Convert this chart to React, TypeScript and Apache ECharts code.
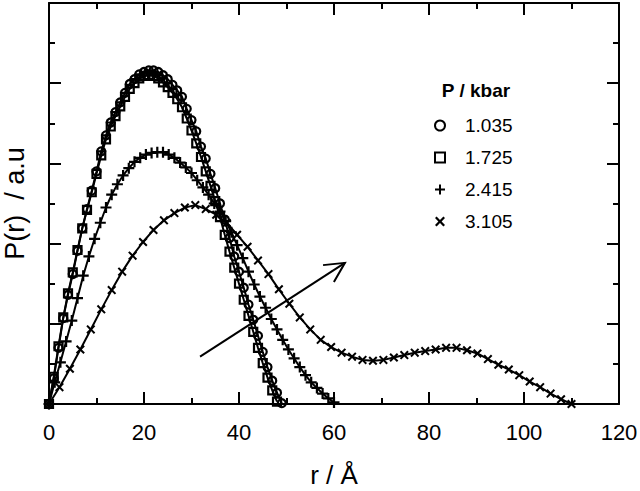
import React, { useEffect, useRef } from 'react';
import * as echarts from 'echarts';

// P / kbar = 1.035 (circles)
const CIRCLE_R = [0, 1, 2, 3, 4, 5, 6, 7, 8, 9, 10, 11, 12, 13, 14, 15, 16, 17, 18, 19, 20, 21, 22, 23, 24, 25, 26, 27, 28, 29, 30, 31, 32, 33, 34, 35, 36, 37, 38, 39, 40, 41, 42, 43, 44, 45, 46, 47, 48, 49];
const CIRCLE_P = [
  0, 0.32, 0.70, 1.07, 1.36, 1.62, 1.91, 2.19, 2.43, 2.66,
  2.90, 3.15, 3.35, 3.51, 3.64, 3.76, 3.88, 3.99, 4.05, 4.11,
  4.14, 4.16, 4.16, 4.14, 4.10, 4.05, 3.98, 3.91, 3.83, 3.68,
  3.54, 3.40, 3.21, 3.06, 2.87, 2.69, 2.50, 2.30, 2.07, 1.84,
  1.65, 1.45, 1.24, 1.05, 0.85, 0.65, 0.46, 0.29, 0.14, 0.01,
];

// P / kbar = 1.725 (squares)
const SQUARE_R = [0, 1, 2, 3, 4, 5, 6, 7, 8, 9, 10, 11, 12, 13, 14, 15, 16, 17, 18, 19, 20, 21, 22, 23, 24, 25, 26, 27, 28, 29, 30, 31, 32, 33, 34, 35, 36, 37, 38, 39, 40, 41, 42, 43, 44, 45, 46, 47, 48];
const SQUARE_P = [
  0, 0.34, 0.72, 1.08, 1.38, 1.64, 1.92, 2.19, 2.42, 2.64,
  2.87, 3.10, 3.30, 3.46, 3.59, 3.71, 3.83, 3.93, 4.00, 4.06,
  4.09, 4.10, 4.09, 4.06, 4.01, 3.95, 3.88, 3.80, 3.70, 3.56,
  3.41, 3.25, 3.08, 2.90, 2.72, 2.53, 2.33, 2.11, 1.90, 1.70,
  1.50, 1.30, 1.10, 0.90, 0.70, 0.51, 0.33, 0.17, 0.03,
];

// P / kbar = 2.415 (plus)
const PLUS_R = [0, 1.2, 2.4, 3.6, 4.8, 6.0, 7.2, 8.4, 9.6, 10.8, 12.0, 13.2, 14.4, 15.6, 16.8, 18.0, 19.2, 20.4, 21.6, 22.8, 24.0, 25.2, 26.4, 27.6, 28.8, 30.0, 31.2, 32.4, 33.6, 34.8, 36.0, 37.2, 38.4, 39.6, 40.8, 42.0, 43.2, 44.4, 45.6, 46.8, 48.0, 49.2, 50.4, 51.6, 52.8, 54.0, 55.2, 56.4, 57.6, 58.8, 60.0];
const PLUS_P = [
  0, 0.27, 0.52, 0.78, 1.04, 1.32, 1.60, 1.84, 2.06, 2.26,
  2.45, 2.61, 2.74, 2.85, 2.94, 3.02, 3.07, 3.11, 3.13, 3.14,
  3.14, 3.11, 3.07, 3.01, 2.95, 2.88, 2.79, 2.70, 2.61, 2.50,
  2.40, 2.28, 2.14, 1.98, 1.82, 1.65, 1.49, 1.34, 1.20, 1.06,
  0.93, 0.80, 0.68, 0.57, 0.46, 0.36, 0.27, 0.20, 0.13, 0.07,
  0.02,
];

// P / kbar = 3.105 (cross)
const CROSS_R = [0, 2.2, 4.4, 6.6, 8.8, 11.0, 13.2, 15.4, 17.6, 19.8, 22.0, 24.2, 26.4, 28.6, 30.8, 33.0, 35.2, 37.4, 39.6, 41.8, 44.0, 46.2, 48.4, 50.6, 52.8, 55.0, 57.2, 59.4, 61.6, 63.8, 66.0, 68.2, 70.4, 72.6, 74.8, 77.0, 79.2, 81.4, 83.6, 85.8, 88.0, 90.2, 92.4, 94.6, 96.8, 99.0, 101.2, 103.4, 105.6, 107.8, 110.0];
const CROSS_P = [
  0, 0.21, 0.44, 0.68, 0.93, 1.18, 1.42, 1.65, 1.85, 2.02,
  2.17, 2.29, 2.38, 2.45, 2.48, 2.43, 2.36, 2.26, 2.11, 1.96,
  1.79, 1.62, 1.43, 1.25, 1.08, 0.93, 0.80, 0.71, 0.64, 0.59,
  0.55, 0.54, 0.55, 0.58, 0.61, 0.64, 0.66, 0.68, 0.70, 0.70,
  0.67, 0.63, 0.56, 0.49, 0.43, 0.36, 0.28, 0.21, 0.13, 0.06,
  0.00,
];

const SERIES_NAMES = ['1.035', '1.725', '2.415', '3.105'];
const LEGEND_TITLE = 'P / kbar';
const X_NAME = 'r / Å';
const Y_NAME = 'P(r)  / a.u';

// arrow annotation, in data coordinates
const ARROW_FROM = [31.8, 0.59];
const ARROW_TO = [62.3, 1.76];

const FONT = "'Liberation Sans', Arial, Helvetica, sans-serif";
const PLUS_PATH = 'path://M4,0H6V4H10V6H6V10H4V6H0V4H4Z';
const CROSS_PATH = 'path://M0,1.6L1.6,0L5,3.4L8.4,0L10,1.6L6.6,5L10,8.4L8.4,10L5,6.6L1.6,10L0,8.4L3.4,5Z';
const SQUARE_PATH = 'path://M0,0H10V10H0Z';

function pairs(r: number[], p: number[]) {
  return r.map((v, i) => [v, p[i]]);
}

export default function App() {
  const ref = useRef<HTMLDivElement>(null);
  useEffect(() => {
    if (!ref.current) return;
    const chart = echarts.init(ref.current, undefined, { renderer: 'svg' });
    const axisLine = { show: true, onZero: false, lineStyle: { color: '#000', width: 2 } };
    const axisTick = { show: true, inside: true, length: 12, lineStyle: { color: '#000', width: 2 } };
    const minorTick = { show: true, splitNumber: 2, length: 6, lineStyle: { color: '#000', width: 2 } };
    const base = {
      type: 'value' as const,
      axisLine,
      axisTick,
      minorTick,
      splitLine: { show: false },
      minorSplitLine: { show: false },
    };
    const hollow = { color: 'rgba(0,0,0,0)', borderColor: '#000', borderWidth: 2.2 };
    const solid = { color: '#000', borderWidth: 0 };
    const common = {
      type: 'line' as const,
      showSymbol: true,
      showAllSymbol: true,
      lineStyle: { color: '#000', width: 2 },
      emphasis: { disabled: true },
      silent: true,
      z: 2,
    };
    chart.setOption({
      animation: false,
      backgroundColor: '#fff',
      grid: { left: 49, right: 21, top: 3, bottom: 87, containLabel: false, outerBoundsMode: 'none' },
      xAxis: [
        {
          ...base,
          position: 'bottom',
          min: 0,
          max: 120,
          interval: 20,
          axisLabel: { show: true, color: '#000', fontSize: 22, fontFamily: FONT, margin: 17 },
          name: X_NAME,
          nameLocation: 'middle',
          nameGap: 58,
          nameTextStyle: { color: '#000', fontSize: 26, fontFamily: FONT },
        },
        {
          ...base,
          position: 'top',
          min: 0,
          max: 120,
          interval: 20,
          axisLabel: { show: false },
        },
      ],
      yAxis: [
        {
          ...base,
          position: 'left',
          min: 0,
          max: 5,
          interval: 1,
          axisLabel: { show: false },
          name: Y_NAME,
          nameLocation: 'middle',
          nameGap: 21,
          nameTextStyle: { color: '#000', fontSize: 27, fontFamily: FONT },
        },
        {
          ...base,
          position: 'right',
          min: 0,
          max: 5,
          interval: 1,
          axisLabel: { show: false },
        },
      ],
      legend: {
        orient: 'vertical',
        left: 429,
        top: 111,
        itemWidth: 40,
        itemHeight: 10,
        itemGap: 13,
        selectedMode: false,
        textStyle: { color: '#000', fontSize: 19, fontFamily: FONT },
        data: [
          { name: SERIES_NAMES[0], icon: 'circle' },
          { name: SERIES_NAMES[1], icon: SQUARE_PATH },
          { name: SERIES_NAMES[2], icon: PLUS_PATH },
          { name: SERIES_NAMES[3], icon: CROSS_PATH },
        ],
      },
      series: [
        {
          ...common,
          name: SERIES_NAMES[3],
          data: pairs(CROSS_R, CROSS_P),
          symbol: CROSS_PATH,
          symbolSize: 9,
          itemStyle: solid,
        },
        {
          ...common,
          name: SERIES_NAMES[2],
          data: pairs(PLUS_R, PLUS_P),
          symbol: PLUS_PATH,
          symbolSize: 11,
          itemStyle: solid,
        },
        {
          ...common,
          name: SERIES_NAMES[1],
          data: pairs(SQUARE_R, SQUARE_P),
          symbol: 'rect',
          symbolSize: 8,
          itemStyle: hollow,
        },
        {
          ...common,
          name: SERIES_NAMES[0],
          data: pairs(CIRCLE_R, CIRCLE_P),
          symbol: 'circle',
          symbolSize: 8,
          itemStyle: hollow,
        },
      ],
    });

    const a = chart.convertToPixel({ seriesIndex: 0 }, ARROW_FROM) as number[];
    const b = chart.convertToPixel({ seriesIndex: 0 }, ARROW_TO) as number[];
    const ang = Math.atan2(b[1] - a[1], b[0] - a[0]);
    const headLen = 22;
    const spread = (27 * Math.PI) / 180;
    const h1 = [b[0] - headLen * Math.cos(ang - spread), b[1] - headLen * Math.sin(ang - spread)];
    const h2 = [b[0] - headLen * Math.cos(ang + spread), b[1] - headLen * Math.sin(ang + spread)];
    const titleX = 476;
    chart.setOption({
      graphic: [
        {
          type: 'line',
          shape: { x1: a[0], y1: a[1], x2: b[0], y2: b[1] },
          style: { stroke: '#000', lineWidth: 2 },
          z: 10,
        },
        {
          type: 'polyline',
          shape: { points: [h1, b, h2] },
          style: { stroke: '#000', lineWidth: 2, fill: 'none' },
          z: 10,
        },
        {
          type: 'text',
          x: titleX,
          y: 90,
          style: {
            text: LEGEND_TITLE,
            fill: '#000',
            font: `bold 19px ${FONT}`,
            textAlign: 'center',
            textVerticalAlign: 'middle',
          },
          z: 10,
        },
      ],
    });
    return () => chart.dispose();
  }, []);
  return (
    <div
      ref={ref}
      style={{ position: 'fixed', left: 0, top: 0, width: 640, height: 491, background: '#fff' }}
    />
  );
}
